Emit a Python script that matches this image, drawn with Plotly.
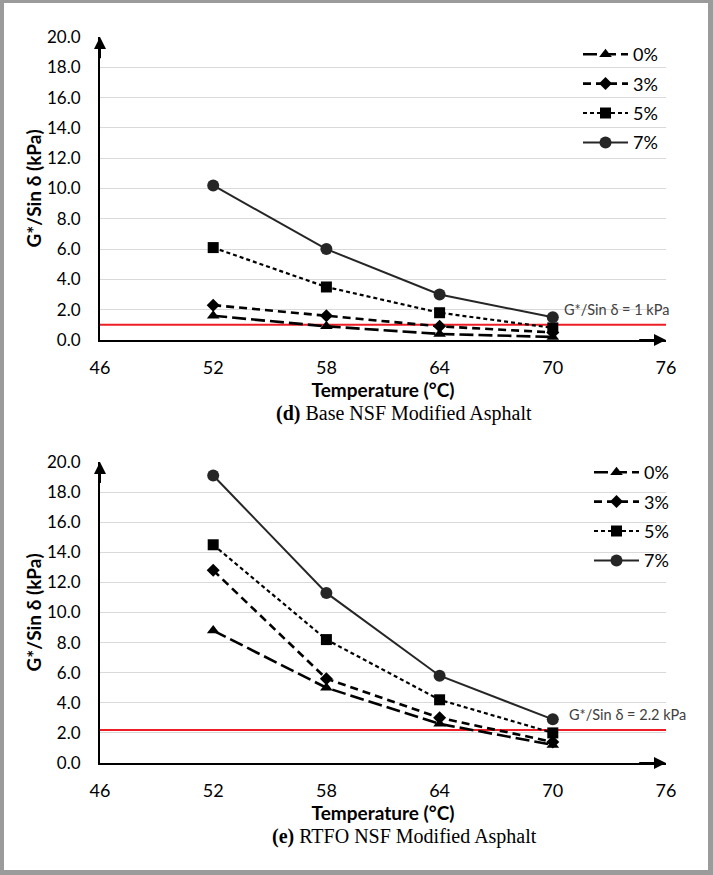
import plotly.graph_objects as go

temps = [52, 58, 64, 70]
series_names = ["0%", "3%", "5%", "7%"]

base_0 = [1.6, 0.9, 0.4, 0.2]
base_3 = [2.3, 1.6, 0.9, 0.5]
base_5 = [6.1, 3.5, 1.8, 0.8]
base_7 = [10.2, 6.0, 3.0, 1.5]

rtfo_0 = [8.8, 5.0, 2.6, 1.2]
rtfo_3 = [12.8, 5.6, 3.0, 1.4]
rtfo_5 = [14.5, 8.2, 4.2, 2.0]
rtfo_7 = [19.1, 11.3, 5.8, 2.9]

thresholds = [1.0, 2.2]
threshold_labels = ["G*/Sin δ = 1 kPa", "G*/Sin δ = 2.2 kPa"]
captions = [("(d)", "Base NSF Modified Asphalt"), ("(e)", "RTFO NSF Modified Asphalt")]

x_range = [46, 76]
y_range = [0, 20]
x_ticks = [46, 52, 58, 64, 70, 76]
y_ticks = [0, 2, 4, 6, 8, 10, 12, 14, 16, 18, 20]

W, H = 713, 875
FONT = "Lato"

styles = [
    dict(dash="14px,5px", width=2.6, color="#000000", symbol="triangle-up", size=11),
    dict(dash="8px,5px", width=2.6, color="#000000", symbol="diamond", size=10),
    dict(dash="4px,3px", width=2.2, color="#000000", symbol="square", size=11),
    dict(dash="solid", width=2.0, color="#262626", symbol="circle", size=12),
]

fig = go.Figure()

panels = [
    dict(data=[base_0, base_3, base_5, base_7], xa="x", ya="y", legend="legend"),
    dict(data=[rtfo_0, rtfo_3, rtfo_5, rtfo_7], xa="x2", ya="y2", legend="legend2"),
]

for pi, p in enumerate(panels):
    for si, (name, vals) in enumerate(zip(series_names, p["data"])):
        st = styles[si]
        fig.add_trace(go.Scatter(
            x=temps, y=vals, name=name, mode="lines+markers",
            xaxis=p["xa"], yaxis=p["ya"], legend=p["legend"],
            legendgroup=f"g{pi}{si}",
            line=dict(color=st["color"], width=st["width"], dash=st["dash"]),
            marker=dict(symbol=st["symbol"], size=st["size"], color=st["color"]),
            cliponaxis=False,
        ))

# panel pixel geometry
px_left, px_right = 100, 666
tops = [37, 462]
bottoms = [340, 763]

def py(v):
    return 1 - v / H

axis_common = dict(
    range=x_range, tickvals=x_ticks, showgrid=False, zeroline=False,
    showline=True, linecolor="#000000", linewidth=2, ticks="",
    tickfont=dict(family=FONT, size=18, color="#000000"),
    ticklabelstandoff=10, automargin=False,
)
yaxis_common = dict(
    range=y_range, tickvals=y_ticks, tickformat=".1f", showgrid=True,
    gridcolor="#d9d9d9", gridwidth=1, zeroline=False,
    showline=True, linecolor="#000000", linewidth=2, ticks="",
    tickfont=dict(family=FONT, size=17, color="#000000"),
    ticklabelstandoff=14, automargin=False,
)

layout = dict(
    width=W, height=H,
    margin=dict(l=0, r=0, t=0, b=0),
    paper_bgcolor="#9b9b9b",
    plot_bgcolor="rgba(0,0,0,0)",
    showlegend=True,
    shapes=[],
    annotations=[],
)

# white page inside grey frame
layout["shapes"].append(dict(
    type="rect", xref="paper", yref="paper", x0=4 / W, x1=708 / W, y0=5 / H, y1=1 - 3 / H,
    fillcolor="#ffffff", line=dict(width=0), layer="below"))

for i, (xa, ya) in enumerate([("xaxis", "yaxis"), ("xaxis2", "yaxis2")]):
    xname = "x" if i == 0 else "x2"
    yname = "y" if i == 0 else "y2"
    layout[xa] = dict(axis_common, domain=[px_left / W, px_right / W], anchor=yname,
                      title=dict(text="<b>Temperature (°C)</b>", standoff=0,
                                 font=dict(family=FONT, size=19, color="#000000")))
    layout[ya] = dict(yaxis_common, domain=[py(bottoms[i]), py(tops[i])], anchor=xname,
                      title=dict(text="<b>G*/Sin δ (kPa)</b>", standoff=0,
                                 font=dict(family=FONT, size=19, color="#000000")))
    # threshold line
    layout["shapes"].append(dict(
        type="line", xref=xname, yref=yname, x0=x_range[0], x1=x_range[1],
        y0=thresholds[i], y1=thresholds[i], line=dict(color="#ee1c25", width=2),
        layer="below"))
    # threshold label
    layout["annotations"].append(dict(
        xref=xname, yref=yname, x=x_range[1], y=thresholds[i], xanchor="right",
        yanchor="bottom", yshift=5, xshift=5 if i == 0 else 22,
        text=threshold_labels[i], showarrow=False,
        font=dict(family=FONT, size=14.5, color="#404040")))
    # axis arrows
    layout["annotations"].append(dict(
        xref=xname, yref=yname, axref=xname, ayref=yname,
        x=x_range[0], y=y_range[1], ax=x_range[0], ay=y_range[1] - 1.5,
        text="", showarrow=True, arrowhead=2, arrowsize=1.2, arrowwidth=2,
        arrowcolor="#000000", standoff=0))
    layout["annotations"].append(dict(
        xref=xname, yref=yname, axref=xname, ayref=yname,
        x=x_range[1], y=y_range[0], ax=x_range[1] - 1.5, ay=y_range[0],
        text="", showarrow=True, arrowhead=2, arrowsize=1.2, arrowwidth=2,
        arrowcolor="#000000", standoff=0))
    # caption
    cap_y = [413, 836][i]
    layout["annotations"].append(dict(
        xref="paper", yref="paper", x=404 / W, y=py(cap_y), xanchor="center", yanchor="middle",
        text=f"<b>{captions[i][0]}</b> {captions[i][1]}", showarrow=False,
        font=dict(family="Liberation Serif", size=20, color="#000000")))

legend_common = dict(
    bgcolor="rgba(0,0,0,0)", borderwidth=0, font=dict(family=FONT, size=18, color="#000000"),
    itemwidth=45, tracegroupgap=3, xanchor="left", yanchor="top", itemclick=False,
)
layout["legend"] = dict(legend_common, x=578 / W, y=py(36))
layout["legend2"] = dict(legend_common, x=589 / W, y=py(454))

fig.update_layout(**layout)
fig.write_html(
    "out.html",
    config={"displayModeBar": False},
    post_script="document.body.style.margin='0';document.body.style.overflow='hidden';",
)
